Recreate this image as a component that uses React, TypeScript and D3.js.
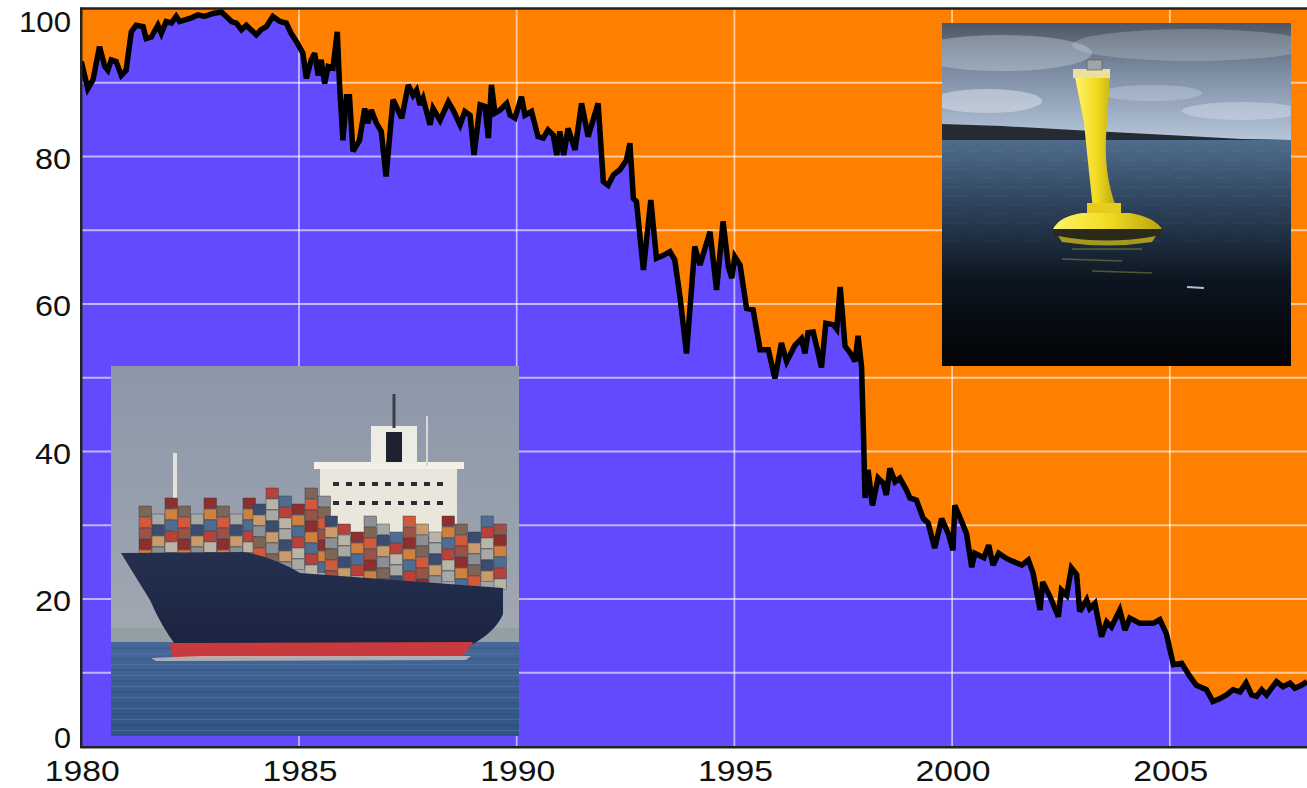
// Ships vs buoys share of observations, 1980-2008
import React from 'react';
import * as d3 from 'd3';

// decimal year of each reading
const years = [
  1980.00, 1980.15, 1980.27, 1980.42, 1980.54, 1980.61, 1980.69, 1980.80, 1980.92, 1981.03,
  1981.15, 1981.26, 1981.42, 1981.49, 1981.61, 1981.76, 1981.84, 1981.95, 1982.07, 1982.18,
  1982.26, 1982.53, 1982.68, 1982.83, 1983.03, 1983.22, 1983.33, 1983.45, 1983.56, 1983.68,
  1983.79, 1984.02, 1984.13, 1984.25, 1984.40, 1984.56, 1984.71, 1984.82, 1984.94, 1985.09,
  1985.17, 1985.28, 1985.36, 1985.44, 1985.51, 1985.59, 1985.67, 1985.78, 1985.88, 1985.93,
  1986.01, 1986.09, 1986.16, 1986.24, 1986.39, 1986.51, 1986.58, 1986.66, 1986.78, 1986.89,
  1987.00, 1987.16, 1987.36, 1987.51, 1987.62, 1987.70, 1987.78, 1987.85, 1988.01, 1988.08,
  1988.24, 1988.43, 1988.54, 1988.70, 1988.81, 1988.93, 1989.02, 1989.16, 1989.27, 1989.35,
  1989.42, 1989.50, 1989.62, 1989.77, 1989.85, 1989.96, 1990.11, 1990.19, 1990.34, 1990.49,
  1990.61, 1990.72, 1990.84, 1990.92, 1990.99, 1991.08, 1991.18, 1991.34, 1991.49, 1991.64,
  1991.87, 1991.99, 1992.10, 1992.22, 1992.37, 1992.52, 1992.60, 1992.68, 1992.75, 1992.91,
  1993.08, 1993.21, 1993.37, 1993.52, 1993.63, 1993.75, 1993.90, 1994.09, 1994.21, 1994.44,
  1994.59, 1994.74, 1994.86, 1994.94, 1995.01, 1995.13, 1995.28, 1995.43, 1995.59, 1995.78,
  1995.93, 1996.08, 1996.20, 1996.39, 1996.54, 1996.62, 1996.69, 1996.81, 1997.00, 1997.10,
  1997.27, 1997.35, 1997.43, 1997.54, 1997.68, 1997.77, 1997.84, 1997.92, 1997.96, 1998.00,
  1998.07, 1998.17, 1998.30, 1998.42, 1998.49, 1998.57, 1998.69, 1998.80, 1998.95, 1999.03,
  1999.18, 1999.34, 1999.45, 1999.60, 1999.76, 1999.91, 2000.02, 2000.06, 2000.22, 2000.33,
  2000.45, 2000.52, 2000.73, 2000.84, 2000.94, 2001.07, 2001.25, 2001.40, 2001.60, 2001.75,
  2001.86, 2002.02, 2002.08, 2002.25, 2002.44, 2002.51, 2002.63, 2002.74, 2002.86, 2002.93,
  2003.09, 2003.16, 2003.28, 2003.43, 2003.55, 2003.66, 2003.85, 2003.97, 2004.08, 2004.31,
  2004.62, 2004.77, 2004.92, 2005.08, 2005.27, 2005.46, 2005.61, 2005.84, 2005.99, 2006.15,
  2006.30, 2006.45, 2006.61, 2006.75, 2006.88, 2006.99, 2007.11, 2007.22, 2007.45, 2007.60,
  2007.76, 2007.87, 2008.02, 2008.15
];

// percent from ships (the rest is buoys)
const shipPct = [
  92.9, 89.2, 90.4, 94.9, 92.2, 91.7, 93.1, 92.9, 91.0, 91.7,
  96.9, 97.8, 97.6, 96.0, 96.2, 97.8, 96.7, 98.3, 98.1, 99.0,
  98.3, 98.8, 99.2, 99.0, 99.4, 99.6, 99.0, 98.3, 98.1, 97.2,
  97.8, 96.5, 97.2, 97.6, 99.0, 98.3, 98.1, 96.7, 95.6, 94.0,
  90.6, 93.1, 94.0, 91.0, 93.1, 89.9, 92.2, 92.0, 96.9, 89.9,
  82.2, 88.1, 88.1, 80.7, 82.2, 86.5, 84.5, 86.3, 84.5, 83.4,
  77.3, 87.7, 85.2, 89.7, 88.3, 89.0, 87.0, 87.9, 84.3, 86.5,
  84.9, 87.4, 86.3, 84.3, 86.1, 85.6, 80.2, 87.0, 86.8, 82.5,
  89.7, 85.9, 86.3, 87.2, 85.6, 85.2, 88.1, 85.6, 86.1, 82.7,
  82.5, 83.6, 82.9, 80.2, 83.4, 80.2, 83.8, 80.9, 87.2, 82.7,
  87.2, 76.6, 76.1, 77.5, 78.2, 79.5, 81.8, 74.3, 73.9, 64.6,
  74.1, 66.2, 66.6, 67.1, 66.0, 61.0, 53.3, 67.8, 65.3, 69.8,
  61.9, 71.2, 65.1, 63.5, 66.4, 65.3, 59.4, 59.2, 53.8, 53.8,
  49.9, 54.7, 52.2, 54.4, 55.3, 53.3, 56.1, 56.2, 51.4, 57.4,
  57.2, 56.6, 62.3, 54.3, 53.2, 52.2, 55.7, 51.5, 43.4, 33.7,
  37.5, 32.7, 36.4, 35.7, 34.1, 37.7, 35.9, 36.4, 34.8, 33.7,
  33.4, 30.9, 30.3, 26.9, 30.9, 28.9, 26.6, 32.7, 30.5, 28.9,
  24.3, 26.2, 25.6, 27.3, 24.6, 26.2, 25.5, 25.1, 24.6, 25.3,
  23.5, 18.5, 22.3, 20.3, 17.6, 21.2, 20.5, 24.2, 23.3, 18.3,
  19.9, 18.7, 19.4, 14.9, 16.9, 16.2, 18.5, 15.8, 17.4, 16.7,
  16.7, 17.2, 15.3, 11.1, 11.3, 9.5, 8.3, 7.7, 6.1, 6.5,
  7.0, 7.7, 7.4, 8.6, 7.0, 6.8, 7.7, 7.0, 8.8, 8.1,
  8.6, 7.9, 8.3, 8.8
];

const yTicks = [0, 20, 40, 60, 80, 100];
const yGrid = [10, 20, 30, 40, 50, 60, 70, 80, 90];
const xTicks = [1980, 1985, 1990, 1995, 2000, 2005];
const xGrid = [1985, 1990, 1995, 2000, 2005];

const W = 1307;
const H = 788;
const PURPLE = '#634aff';
const ORANGE = '#ff8000';

const containerColors = ['#b8413a', '#8c8f95', '#cf7f3e', '#3c4b70', '#9c5244', '#b9b4a6', '#7d6656', '#4f6d90', '#c99a6a', '#8e2f2f', '#a7a9a4', '#d25a3c'];

const ShipPhoto: React.FC<{ x: number; y: number; w: number; h: number }> = ({ x, y, w, h }) => {
  const stacks: { x0: number; x1: number; top: number; bottom: number }[] = [
    { x0: 28, x1: 140, top: 132, bottom: 190 },
    { x0: 142, x1: 212, top: 122, bottom: 202 },
    { x0: 214, x1: 392, top: 150, bottom: 214 }
  ];
  const boxes: JSX.Element[] = [];
  let k = 0;
  stacks.forEach((s, si) => {
    for (let cx = s.x0; cx < s.x1; cx += 13) {
      const jitter = ((cx * 7 + si * 13) % 3) * 8;
      for (let cy = s.top + jitter; cy < s.bottom; cy += 11) {
        const c = containerColors[(k * 5 + Math.floor(cx / 13) * 3) % containerColors.length];
        boxes.push(<rect key={`c${k}`} x={cx} y={cy} width={12.5} height={10.5} fill={c} stroke="#30343c" strokeWidth={0.4} />);
        k++;
      }
    }
  });
  const waves = d3.range(0, 16).map(i => 282 + i * 5.5);
  return (
    <g transform={`translate(${x},${y})`}>
      <defs>
        <linearGradient id="shipSky" x1="0" y1="0" x2="0" y2="1">
          <stop offset="0" stopColor="#8c97a8" />
          <stop offset="1" stopColor="#a9adb6" />
        </linearGradient>
        <linearGradient id="shipSea" x1="0" y1="0" x2="0" y2="1">
          <stop offset="0" stopColor="#47699a" />
          <stop offset="1" stopColor="#2f5384" />
        </linearGradient>
        <linearGradient id="hullGrad" x1="0" y1="0" x2="0" y2="1">
          <stop offset="0" stopColor="#25304f" />
          <stop offset="1" stopColor="#1a2440" />
        </linearGradient>
        <clipPath id="shipClip"><rect width={w} height={h} /></clipPath>
      </defs>
      <g clipPath="url(#shipClip)">
        <rect width={w} height={h} fill="url(#shipSky)" />
        <rect y={262} width={w} height={18} fill="#8a9a9a" opacity={0.6} />
        <rect y={276} width={w} height={h - 276} fill="url(#shipSea)" />
        {waves.map((wy, i) => (
          <line key={i} x1={0} x2={w} y1={wy} y2={wy} stroke={i % 2 ? '#5a7cae' : '#284a78'} strokeWidth={1.2} opacity={0.55} />
        ))}
        {/* superstructure */}
        <rect x={209} y={100} width={137} height={70} fill="#e9e6dc" />
        <rect x={203} y={96} width={150} height={7} fill="#f2f0e8" />
        <rect x={260} y={60} width={46} height={38} fill="#ecebe4" />
        <rect x={275} y={66} width={16} height={30} fill="#1e2230" />
        <line x1={283} x2={283} y1={28} y2={62} stroke="#3a3e48" strokeWidth={3} />
        <line x1={316} x2={316} y1={50} y2={100} stroke="#d8d8d8" strokeWidth={2} />
        {d3.range(0, 9).map(i => (
          <rect key={`w${i}`} x={222 + i * 13} y={116} width={6} height={4} fill="#2a2c34" />
        ))}
        {d3.range(0, 9).map(i => (
          <rect key={`v${i}`} x={222 + i * 13} y={135} width={6} height={4} fill="#2a2c34" />
        ))}
        {/* foremast */}
        <line x1={64} x2={64} y1={87} y2={185} stroke="#e4e2dc" strokeWidth={4} />
        {boxes}
        {/* hull */}
        <path d="M10,187 L132,186 Q160,190 189,207 L392,222 L392,248 Q385,265 362,278 L66,281 Q50,260 39,234 Q24,210 10,187 Z" fill="url(#hullGrad)" />
        <path d="M58,277 L362,276 Q358,283 352,290 L62,291 Z" fill="#c93a3e" />
        <path d="M40,292 L90,290 L360,290 L355,294 L45,295 Z" fill="#d9d2c4" opacity={0.7} />
      </g>
    </g>
  );
};

const BuoyPhoto: React.FC<{ x: number; y: number; w: number; h: number }> = ({ x, y, w, h }) => {
  const clouds = [
    { cx: 60, cy: 30, rx: 90, ry: 18, o: 0.35 },
    { cx: 250, cy: 22, rx: 120, ry: 16, o: 0.25 },
    { cx: 45, cy: 78, rx: 55, ry: 12, o: 0.55 },
    { cx: 300, cy: 88, rx: 60, ry: 9, o: 0.45 },
    { cx: 210, cy: 70, rx: 50, ry: 8, o: 0.3 }
  ];
  const waves = d3.range(0, 14).map(i => 128 + i * 9);
  return (
    <g transform={`translate(${x},${y})`}>
      <defs>
        <linearGradient id="buoySky" x1="0" y1="0" x2="0" y2="1">
          <stop offset="0" stopColor="#4d5763" />
          <stop offset="0.4" stopColor="#7b8ca2" />
          <stop offset="1" stopColor="#b6c6db" />
        </linearGradient>
        <linearGradient id="buoySea" x1="0" y1="0" x2="0" y2="1">
          <stop offset="0" stopColor="#506c8c" />
          <stop offset="0.3" stopColor="#2c4159" />
          <stop offset="0.62" stopColor="#0c1520" />
          <stop offset="1" stopColor="#020305" />
        </linearGradient>
        <linearGradient id="buoyBody" x1="0" y1="0" x2="1" y2="0">
          <stop offset="0" stopColor="#fff36a" />
          <stop offset="0.5" stopColor="#f2dc22" />
          <stop offset="1" stopColor="#b9a410" />
        </linearGradient>
        <clipPath id="buoyClip"><rect width={w} height={h} /></clipPath>
      </defs>
      <g clipPath="url(#buoyClip)">
        <rect width={w} height={118} fill="url(#buoySky)" />
        {clouds.map((c, i) => (
          <ellipse key={i} cx={c.cx} cy={c.cy} rx={c.rx} ry={c.ry} fill="#d8e0ea" opacity={c.o} />
        ))}
        <path d="M0,101 L60,103 L150,108 L245,113 L300,116 L349,117 L349,119 L0,119 Z" fill="#262b33" />
        <rect y={117} width={w} height={h - 117} fill="url(#buoySea)" />
        {waves.map((wy, i) => (
          <line key={i} x1={0} x2={w} y1={wy} y2={wy} stroke="#7d98b4" strokeWidth={0.8} opacity={0.25 - i * 0.015} strokeDasharray={`${14 + (i % 3) * 6} ${10 + (i % 4) * 5}`} />
        ))}
        {/* buoy */}
        <path d="M133,54 L168,54 L165,100 Q160,150 175,186 L151,186 Q146,140 142,100 Z" fill="url(#buoyBody)" />
        <rect x={131} y={46} width={37} height={9} fill="#e8e0a0" />
        <rect x={145} y={37} width={15} height={10} fill="#9ea4aa" stroke="#555" strokeWidth={0.6} />
        <rect x={145} y={180} width={34} height={10} fill="#e6cc1c" />
        <path d="M111,206 Q118,193 140,190 L188,190 Q212,194 220,206 Z" fill="url(#buoyBody)" />
        <path d="M111,206 L220,206 L218,213 Q165,222 113,213 Z" fill="#2a2a18" />
        <path d="M116,213 Q165,222 214,213 L210,219 Q165,226 120,219 Z" fill="#c8b41a" opacity={0.8} />
        <path d="M130,226 L200,226 M120,236 L180,238 M150,248 L210,250" stroke="#c8c84a" strokeWidth={1.5} opacity={0.35} />
        <path d="M245,264 L262,265" stroke="#e0e8ff" strokeWidth={2} opacity={0.8} />
      </g>
    </g>
  );
};

const App: React.FC = () => {
  const x = d3.scaleLinear().domain([1980, 2008.15]).range([81.25, 1307]);
  const y = d3.scaleLinear().domain([0, 100]).range([746.5, 9]);

  const pts = years.map((yr, i) => ({ yr, v: shipPct[i] }));
  const area = d3.area<{ yr: number; v: number }>()
    .x(d => x(d.yr))
    .y0(y(0))
    .y1(d => y(d.v));
  const line = d3.line<{ yr: number; v: number }>()
    .x(d => x(d.yr))
    .y(d => y(d.v));

  const [x0, x1] = x.range();
  const font = '"Liberation Sans", Arial, Helvetica, sans-serif';

  return (
    <div style={{ position: 'absolute', left: 0, top: 0 }}>
      <svg width={W} height={H} style={{ display: 'block', background: '#fff' }}>
        <defs>
          <clipPath id="plotClip">
            <rect x={x0} y={y(100)} width={x1 - x0} height={y(0) - y(100)} />
          </clipPath>
        </defs>

        {/* buoys share (background) and ships share (area) */}
        <rect x={x0} y={y(100)} width={x1 - x0} height={y(0) - y(100)} fill={ORANGE} />
        <path d={area(pts) as string} fill={PURPLE} />

        {/* grid */}
        {yGrid.map(v => (
          <line key={`gy${v}`} x1={x0} x2={x1} y1={y(v)} y2={y(v)} stroke="#fff" strokeWidth={1.8} opacity={0.6} />
        ))}
        {xGrid.map(t => (
          <line key={`gx${t}`} x1={x(t)} x2={x(t)} y1={y(100)} y2={y(0)} stroke="#fff" strokeWidth={1.8} opacity={0.6} />
        ))}

        <g clipPath="url(#plotClip)">
          <path d={line(pts) as string} fill="none" stroke="#000" strokeWidth={5.5} strokeLinejoin="miter" strokeMiterlimit={3} />
        </g>

        {/* photos */}
        <ShipPhoto x={111} y={366} w={408} h={370} />
        <BuoyPhoto x={942} y={23} w={349} h={343} />

        {/* frame */}
        <line x1={x0 - 1} x2={x1} y1={y(100) - 0.5} y2={y(100) - 0.5} stroke="#222" strokeWidth={2.5} />
        <line x1={x0} x2={x0} y1={y(100) - 1.5} y2={y(0) + 1.5} stroke="#222" strokeWidth={2.5} />
        <line x1={x0 - 1} x2={x1} y1={y(0) + 0.8} y2={y(0) + 0.8} stroke="#222" strokeWidth={2.5} />

        {/* y tick labels */}
        {yTicks.map(v => {
          const by = Math.max(32, Math.min(748, y(v) + 12));
          return (
            <text key={`ty${v}`} x={71} y={by} textAnchor="end" fontFamily={font} fontSize={30}
              fill="#111" textLength={v === 100 ? 52 : v === 0 ? 17 : 36} lengthAdjust="spacingAndGlyphs">{v}</text>
          );
        })}

        {/* x tick labels */}
        {xTicks.map(t => (
          <text key={`tx${t}`} x={x(t) + 1} y={781} textAnchor="middle" fontFamily={font} fontSize={29}
            fill="#111" textLength={75} lengthAdjust="spacingAndGlyphs">{t}</text>
        ))}
      </svg>
    </div>
  );
};

export default App;
